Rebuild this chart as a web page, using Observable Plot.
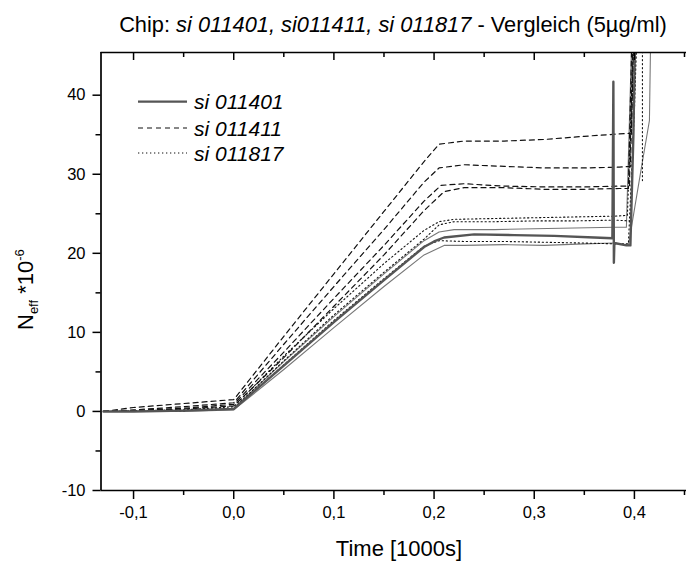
<!DOCTYPE html>
<html><head><meta charset="utf-8">
<script src="https://cdn.jsdelivr.net/npm/d3@7"></script>
<script src="https://cdn.jsdelivr.net/npm/@observablehq/plot@0.6"></script>
<style>
body{margin:0;background:#fff;font-family:"Liberation Sans",Arial,sans-serif;}
#wrap{position:relative;width:686px;height:563px;}
#title{position:absolute;left:100px;width:586px;top:12px;text-align:center;font-size:21.8px;color:#000;white-space:nowrap;}
#chart{position:absolute;left:0;top:0;}
</style></head><body>
<div id="wrap"><div id="chart"></div>
<div id="title">Chip: <i>si 011401, si011411, si 011817</i> - Vergleich (5µg/ml)</div></div>
<script>
// ---- data ----
const legendLabels = ["si 011401", "si 011411", "si 011817"];
const xMajor = [-0.1, 0, 0.1, 0.2, 0.3, 0.4];
const xMinor = [-0.05, 0.05, 0.15, 0.25, 0.35, 0.45];
const yMajor = [-10, 0, 10, 20, 30, 40];
const yMinor = [-5, 5, 15, 25, 35];
const xDomain = [-0.1325, 0.452];
const yDomain = [-10, 45.4];

// si 011401 (solid)
const s1_t = [-0.13,-0.1,-0.05,0,0.05,0.1,0.15,0.19,0.205,0.22,0.26,0.3,0.34,0.38,0.392,0.398];
const s1_v = [0,0,0.1,0.4,6.3,12.0,17.4,21.6,22.7,23.0,23.0,23.1,23.2,23.3,23.3,50];
const s2_t = [-0.13,-0.1,-0.05,0,0.05,0.1,0.15,0.19,0.2,0.21,0.24,0.28,0.32,0.36,0.378,0.379,0.3795,0.380,0.392,0.396,0.399,0.401];
const s2_v = [0,0,0.1,0.3,5.8,11.3,16.6,20.8,21.5,22.0,22.4,22.3,22.2,22.0,21.9,41.7,18.8,21.3,21.0,21.0,35,50];
const s3_t = [-0.13,-0.1,-0.05,0,0.05,0.1,0.15,0.19,0.21,0.23,0.27,0.31,0.35,0.38,0.394,0.408,0.415,0.4165];
const s3_v = [0,0,0,0.2,5.3,10.6,15.8,19.8,21.0,21.0,21.1,21.0,21.2,21.3,21.0,31.6,36.8,50];
// si 011411 (dashed)
const d1_t = [-0.13,-0.1,-0.05,0,0.05,0.1,0.15,0.19,0.205,0.23,0.27,0.31,0.35,0.385,0.397,0.399,0.401];
const d1_v = [0,0.5,1.0,1.5,9.5,17.4,25.3,31.6,33.8,34.2,34.2,34.4,34.8,35.1,35.2,45,50];
const d2_t = [-0.13,-0.1,-0.05,0,0.05,0.1,0.15,0.19,0.205,0.23,0.27,0.31,0.35,0.385,0.396,0.400];
const d2_v = [0,0.2,0.6,1.1,8.5,15.8,23.0,29.0,30.8,31.2,31.0,30.8,30.8,30.9,31.0,50];
const d3_t = [-0.13,-0.1,-0.05,0,0.05,0.1,0.15,0.19,0.207,0.23,0.27,0.31,0.35,0.385,0.395,0.399];
const d3_v = [0,0.1,0.4,0.9,7.5,14.3,21.0,26.6,28.6,28.8,28.5,28.4,28.4,28.5,28.5,50];
const d4_t = [-0.13,-0.1,-0.05,0,0.05,0.1,0.15,0.19,0.21,0.23,0.27,0.31,0.35,0.385,0.394,0.398];
const d4_v = [0,0.1,0.3,0.7,6.8,13.3,19.8,25.4,27.8,28.3,28.3,28.1,28.1,28.2,28.2,50];
// si 011817 (dotted)
const p1_t = [-0.13,-0.1,-0.05,0,0.05,0.1,0.15,0.19,0.205,0.22,0.26,0.3,0.34,0.38,0.393,0.400];
const p1_v = [0,0.1,0.2,0.6,7.0,13.0,18.7,22.9,24.0,24.3,24.4,24.5,24.6,24.7,24.8,50];
const p2_t = [-0.13,-0.1,-0.05,0,0.05,0.1,0.15,0.19,0.205,0.22,0.26,0.3,0.34,0.38,0.396,0.402,0.408,0.408];
const p2_v = [0,0,0.1,0.4,6.4,12.2,17.6,21.8,23.6,24.0,24.0,24.1,24.1,24.2,24.1,48,48,29.2];
const p3_t = [-0.13,-0.1,-0.05,0,0.05,0.1,0.15,0.19,0.205,0.23,0.27,0.31,0.35,0.38,0.394,0.400,0.403];
const p3_v = [0,0,0.1,0.3,5.9,11.5,16.8,20.9,21.6,21.5,21.5,21.4,21.3,21.2,21.2,38,50];

const series = [
  {id:"s1", group:"solid", t:s1_t, v:s1_v},
  {id:"s3", group:"solid", t:s3_t, v:s3_v},
  {id:"s2", group:"thick", t:s2_t, v:s2_v},
  {id:"d1", group:"dash", t:d1_t, v:d1_v},
  {id:"d2", group:"dash", t:d2_t, v:d2_v},
  {id:"d3", group:"dash", t:d3_t, v:d3_v},
  {id:"d4", group:"dash", t:d4_t, v:d4_v},
  {id:"p1", group:"dot", t:p1_t, v:p1_v},
  {id:"p2", group:"dot", t:p2_t, v:p2_v},
  {id:"p3", group:"dot", t:p3_t, v:p3_v},
];
const rows = series.flatMap(s => s.t.map((t,i) => ({id:s.id, group:s.group, t, v:s.v[i]})));
const grp = g => rows.filter(r => r.group === g);

const fmtX = d => (d < 0 ? "-" : "") + Math.abs(d).toFixed(1).replace(".", ",");
const fmtY = d => (d < 0 ? "-" : "") + Math.abs(d);
const H = 563, mT = 52, mB = 73, innerH = H - mT - mB;
const FONT = "'Liberation Sans', Arial, sans-serif";

const chart = Plot.plot({
  width: 686, height: H,
  marginLeft: 100.5, marginRight: 0, marginTop: mT, marginBottom: mB,
  style: {fontFamily: FONT, fontSize: "16.5px", background: "white", color: "black"},
  x: {domain: xDomain, label: null},
  y: {domain: yDomain, label: null},
  marks: [
    Plot.line(grp("solid"), {x:"t", y:"v", z:"id", stroke:"#777", strokeWidth:1.1, clip:true}),
    Plot.line(grp("dot"), {x:"t", y:"v", z:"id", stroke:"#111", strokeWidth:1.1, strokeDasharray:"1.3,2.7", clip:true}),
    Plot.line(grp("dash"), {x:"t", y:"v", z:"id", stroke:"#111", strokeWidth:1.2, strokeDasharray:"5,4", clip:true}),
    Plot.line(grp("thick"), {x:"t", y:"v", z:"id", stroke:"#555", strokeWidth:2.4, clip:true}),
    Plot.ruleX([xDomain[0]], {stroke:"black", strokeWidth:1.7}),
    Plot.ruleY([yDomain[0]], {stroke:"black", strokeWidth:1.7}),
    Plot.ruleY([yDomain[1]], {stroke:"black", strokeWidth:1.7}),
    Plot.tickX(xMajor, {x:d=>d, stroke:"black", strokeWidth:1.5, insetBottom: innerH - 8}),
    Plot.tickX(xMinor, {x:d=>d, stroke:"black", strokeWidth:1.5, insetBottom: innerH - 5}),
    Plot.axisX({ticks: xMajor, tickSize: 9, tickPadding: 7, tickFormat: fmtX, strokeWidth:1.5, fontSize: 16.5}),
    Plot.axisX({ticks: xMinor, tickSize: 5, tickFormat: () => "", strokeWidth:1.5}),
    Plot.axisY({ticks: yMajor, tickSize: 8, tickPadding: 7.5, tickFormat: fmtY, strokeWidth:1.5, fontSize: 16.5}),
    Plot.axisY({ticks: yMinor, tickSize: 5, tickFormat: () => "", strokeWidth:1.5}),
  ]
});
document.getElementById("chart").appendChild(chart);

const svg = d3.select(chart);
// y label
const yl = svg.append("text").attr("transform", "translate(33,330) rotate(-90)")
  .attr("text-anchor", "start")
  .attr("font-size", 22).attr("fill", "black").attr("font-family", FONT);
yl.append("tspan").text("N");
yl.append("tspan").attr("font-size", 13).attr("dy", 5).text("eff");
yl.append("tspan").attr("dy", -5).text(" *10");
yl.append("tspan").attr("font-size", 13).attr("dy", -9).text("-6");
// x label
svg.append("text").attr("x", 399).attr("y", 556).attr("text-anchor", "middle")
  .attr("font-size", 22).attr("fill", "black").attr("font-family", FONT)
  .text("Time [1000s]");
// legend
const legStyles = [
  {stroke:"#555", w:2.2, dash:null},
  {stroke:"#111", w:1.2, dash:"5,4"},
  {stroke:"#111", w:1.1, dash:"1.3,2.7"}
];
const legY = [101.7, 128, 153];
legendLabels.forEach((lab, i) => {
  const s = legStyles[i];
  const ln = svg.append("line").attr("x1", 138).attr("x2", 187).attr("y1", legY[i]).attr("y2", legY[i])
    .attr("stroke", s.stroke).attr("stroke-width", s.w);
  if (s.dash) ln.attr("stroke-dasharray", s.dash);
  svg.append("text").attr("x", 194).attr("y", legY[i] + 7.5).attr("font-size", 21)
    .attr("text-anchor", "start")
    .attr("font-style", "italic").attr("fill", "black")
    .attr("font-family", FONT).text(lab);
});
</script></body></html>
